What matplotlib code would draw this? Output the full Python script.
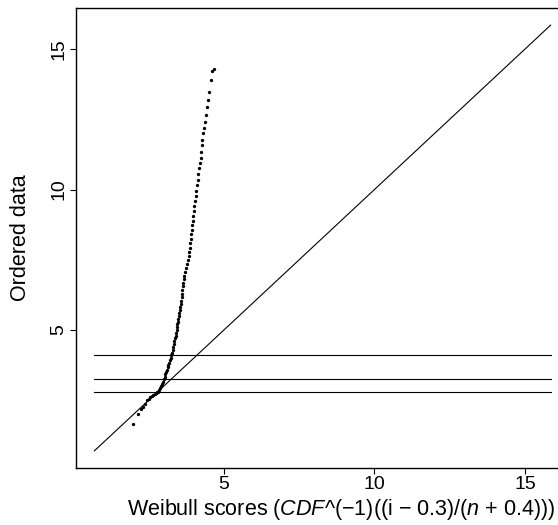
import matplotlib
matplotlib.use("Agg")
from matplotlib import pyplot as plt

plt.rcParams['font.family'] = ['Liberation Sans', 'DejaVu Sans']
plt.rcParams['mathtext.fontset'] = 'custom'
plt.rcParams['mathtext.rm'] = 'Liberation Sans'
plt.rcParams['mathtext.it'] = 'Liberation Sans:italic'

## ordered data vs weibull scores
score_x = [1.97, 2.15, 2.25, 2.30, 2.38, 2.45, 2.50, 2.56, 2.62, 2.66,
           2.70, 2.73, 2.76, 2.79, 2.82, 2.85, 2.88, 2.91, 2.94, 2.97,
           3.00, 3.03, 3.06, 3.08, 3.11, 3.13, 3.16, 3.18, 3.21, 3.23,
           3.26, 3.28, 3.30, 3.32, 3.34, 3.36, 3.38, 3.40, 3.41, 3.43,
           3.44, 3.46, 3.47, 3.49, 3.50, 3.52, 3.54, 3.55, 3.57, 3.58,
           3.60, 3.61, 3.62, 3.64, 3.65, 3.67, 3.69, 3.72, 3.75, 3.78,
           3.81, 3.83, 3.85, 3.87, 3.89, 3.90, 3.92, 3.93, 3.95, 3.97,
           3.98, 4.00, 4.02, 4.04, 4.06, 4.08, 4.11, 4.13, 4.15, 4.18,
           4.20, 4.23, 4.24, 4.27, 4.29, 4.31, 4.35, 4.37, 4.40, 4.43,
           4.46, 4.51, 4.57, 4.61, 4.66]
ordered_y = [1.64, 2.00, 2.18, 2.27, 2.38, 2.50, 2.55, 2.60, 2.65, 2.69,
             2.72, 2.75, 2.77, 2.79, 2.81, 2.85, 2.92, 3.00, 3.08, 3.16,
             3.25, 3.33, 3.42, 3.50, 3.58, 3.67, 3.75, 3.84, 3.92, 4.01,
             4.10, 4.20, 4.30, 4.40, 4.50, 4.60, 4.70, 4.80, 4.90, 5.00,
             5.10, 5.20, 5.30, 5.40, 5.50, 5.60, 5.71, 5.82, 5.93, 6.05,
             6.17, 6.29, 6.42, 6.55, 6.67, 6.80, 6.93, 7.06, 7.20, 7.34,
             7.49, 7.63, 7.78, 7.93, 8.08, 8.24, 8.40, 8.56, 8.72, 8.89,
             9.05, 9.22, 9.40, 9.58, 9.76, 9.95, 10.15, 10.35, 10.55, 10.75,
             10.93, 11.11, 11.35, 11.58, 11.76, 12.00, 12.18, 12.41, 12.65, 12.95,
             13.19, 13.48, 13.90, 14.22, 14.28]

ref_line_x = [0.70, 15.85]
ref_line_y = [0.70, 15.85]
hline_levels = [2.79, 3.25, 4.10]
hline_range = [0.70, 15.86]

ticks = [5, 10, 15]

fig = plt.figure(figsize=(5.58, 5.25), dpi=100)
ax = fig.add_axes([76/558, 57/525, (569-76)/558, 460/525])

ax.plot(ref_line_x, ref_line_y, color='black', lw=0.8)
for lev in hline_levels:
    ax.plot(hline_range, [lev, lev], color='black', lw=0.8)
# dense part drawn with a slightly bigger dot so it reads as a solid band
ax.plot(score_x, ordered_y, ls='none', marker='o', ms=2.4, mew=0, color='black')

ax.set_xlim(0.09, 16.46)
ax.set_ylim(0.09, 16.46)
ax.set_xticks(ticks)
ax.set_yticks(ticks)
ax.tick_params(direction='out', length=4, width=0.8, labelsize=14, pad=2)
for lbl in ax.get_yticklabels():
    lbl.set_rotation(90)
    lbl.set_va('center')
ax.spines['right'].set_visible(False)
for s in ['left', 'bottom', 'top']:
    ax.spines[s].set_linewidth(1.0)

fig.text(341/558, 1 - 509/525,
         r"Weibull scores ($\mathit{CDF}$^(−1)((i − 0.3)/($\mathit{n}$ + 0.4)))",
         ha='center', va='center', fontsize=15.5)
fig.text(21/558, 1 - 238/525, "Ordered data", rotation=90,
         ha='center', va='center', fontsize=15.5)

fig.savefig("out.png", dpi=100)
